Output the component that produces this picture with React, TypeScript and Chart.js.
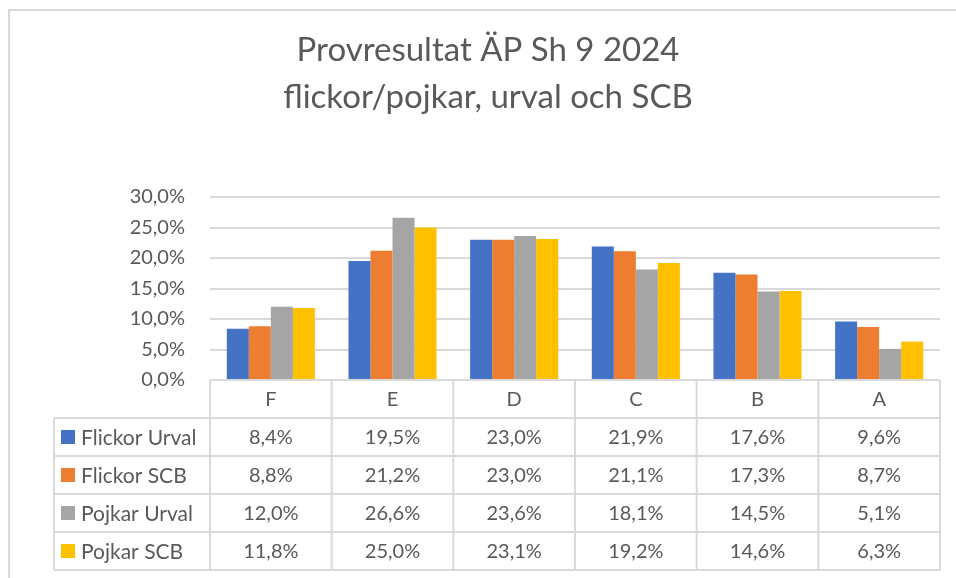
import React, { useEffect, useRef } from "react";
import { Chart, registerables } from "chart.js";

Chart.register(...registerables);

const categories = ["F", "E", "D", "C", "B", "A"];
const seriesNames = ["Flickor Urval", "Flickor SCB", "Pojkar Urval", "Pojkar SCB"];
const flickorUrval = [8.4, 19.5, 23.0, 21.9, 17.6, 9.6];
const flickorSCB = [8.8, 21.2, 23.0, 21.1, 17.3, 8.7];
const pojkarUrval = [12.0, 26.6, 23.6, 18.1, 14.5, 5.1];
const pojkarSCB = [11.8, 25.0, 23.1, 19.2, 14.6, 6.3];
const seriesColors = ["#4472C4", "#ED7D31", "#A5A5A5", "#FFC000"];
const titleLines = ["Provresultat ÄP Sh 9 2024", "flickor/pojkar, urval och SCB"];
const yMax = 30;
const yStep = 5;

const FONT = "Lato, 'Open Sans', sans-serif";
const TEXT = "#595959";
const GRID = "#d9d9d9";

const fmt = (v: number) => v.toFixed(1).replace(".", ",") + "%";

const tablePlugin = {
  id: "dataTable",
  beforeDraw(chart: any) {
    const ctx = chart.ctx;
    ctx.save();
    ctx.fillStyle = "#ffffff";
    ctx.fillRect(0, 0, chart.width, chart.height);
    // outer chart border
    ctx.strokeStyle = GRID;
    ctx.lineWidth = 2;
    ctx.beginPath();
    ctx.moveTo(9, chart.height);
    ctx.lineTo(9, 10);
    ctx.lineTo(chart.width, 10);
    ctx.stroke();
    // title
    ctx.fillStyle = TEXT;
    ctx.font = `33px ${FONT}`;
    ctx.textAlign = "center";
    ctx.textBaseline = "middle";
    ctx.fillText(titleLines[0], 488, 50);
    ctx.fillText(titleLines[1], 488, 97);
    ctx.restore();
  },
  afterDraw(chart: any) {
    const ctx = chart.ctx;
    const xs = chart.scales.x;
    const area = chart.chartArea;
    const left = area.left;
    const right = area.right;
    const top = area.bottom;
    const rowH = 38;
    const legendLeft = 54;
    const n = categories.length;
    const colW = (right - left) / n;
    const datasets = chart.data.datasets;
    const rows = datasets.length;
    const bottom = top + rowH * (rows + 1);

    ctx.save();
    ctx.strokeStyle = GRID;
    ctx.lineWidth = 2;
    ctx.beginPath();
    ctx.moveTo(left, top);
    ctx.lineTo(right, top);
    for (let r = 1; r <= rows + 1; r++) {
      const y = top + r * rowH;
      ctx.moveTo(legendLeft, y);
      ctx.lineTo(right, y);
    }
    ctx.moveTo(legendLeft, top + rowH);
    ctx.lineTo(legendLeft, bottom);
    for (let i = 0; i <= n; i++) {
      const x = left + i * colW;
      ctx.moveTo(x, top);
      ctx.lineTo(x, bottom);
    }
    ctx.stroke();

    ctx.fillStyle = TEXT;
    ctx.font = `20px ${FONT}`;
    ctx.textAlign = "center";
    ctx.textBaseline = "middle";
    for (let i = 0; i < n; i++) {
      const x = xs.getPixelForValue(i);
      ctx.fillText(categories[i], x, top + rowH / 2 + 1);
    }
    for (let r = 0; r < rows; r++) {
      const y = top + (r + 1) * rowH + rowH / 2 + 1;
      const ds = datasets[r];
      ctx.font = `20px ${FONT}`;
      for (let i = 0; i < n; i++) {
        const x = xs.getPixelForValue(i);
        ctx.textAlign = "center";
        ctx.fillStyle = TEXT;
        ctx.fillText(fmt(ds.data[i]), x, y);
      }
      ctx.fillStyle = ds.backgroundColor;
      ctx.fillRect(61, y - 8, 14, 14);
      ctx.fillStyle = TEXT;
      ctx.textAlign = "left";
      ctx.font = `21px ${FONT}`;
      ctx.fillText(ds.label, 81, y);
    }
    ctx.restore();
  },
};

export default function App() {
  const ref = useRef<HTMLCanvasElement>(null);
  useEffect(() => {
    if (!ref.current) return;
    const values = [flickorUrval, flickorSCB, pojkarUrval, pojkarSCB];
    const chart = new Chart(ref.current, {
      type: "bar",
      data: {
        labels: categories,
        datasets: seriesNames.map((name, i) => ({
          label: name,
          data: values[i],
          backgroundColor: seriesColors[i],
          borderWidth: 0,
          categoryPercentage: 0.724,
          barPercentage: 1.0,
        })),
      },
      options: {
        animation: false,
        responsive: false,
        maintainAspectRatio: false,
        layout: { padding: { top: 197, bottom: 198, left: 0, right: 16 } },
        plugins: {
          legend: { display: false },
          title: { display: false },
          tooltip: { enabled: false },
        },
        scales: {
          x: { display: false },
          y: {
            min: 0,
            max: yMax,
            afterFit: (s: any) => {
              s.width = 210;
            },
            border: { display: false },
            grid: { color: GRID, lineWidth: 2, drawTicks: false },
            ticks: {
              stepSize: yStep,
              padding: 25,
              color: TEXT,
              font: { family: FONT, size: 20 },
              callback: (v: any) => fmt(Number(v)),
            },
          },
        },
      },
      plugins: [tablePlugin],
    });
    return () => chart.destroy();
  }, []);
  return (
    <div style={{ position: "fixed", left: 0, top: 0, width: 956, height: 578 }}>
      <canvas ref={ref} width={956} height={578} style={{ display: "block" }} />
    </div>
  );
}
